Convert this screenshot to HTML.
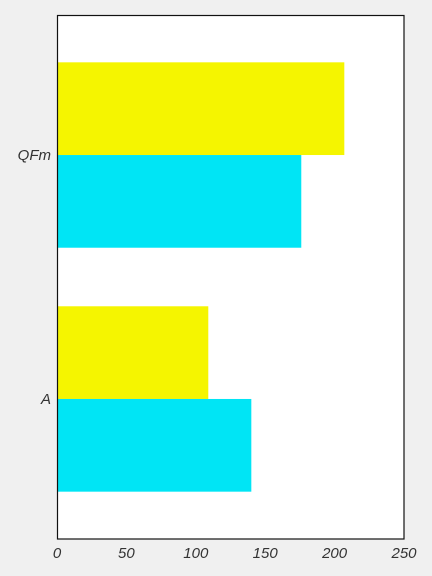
<!DOCTYPE html>
<html><head><meta charset="utf-8"><style>
body{margin:0;background:#f0f0f0;}
svg{display:block;}
text{font-family:"Liberation Sans",sans-serif;font-style:italic;font-size:15px;fill:#333;}
</style></head><body>
<svg id="chart" width="432" height="576" xmlns="http://www.w3.org/2000/svg">
<rect x="0" y="0" width="432" height="576" fill="#f0f0f0"/>
<rect x="57" y="15" width="347" height="524" fill="#fff"/>
<g id="bars"></g>
<g id="ticks"></g>
<rect x="57.5" y="15.5" width="346.5" height="523.5" fill="none" stroke="#111" stroke-width="1.2"/>
</svg>
<script>
const categories = ["A", "QFm"];
const seriesCyan = [140, 176];
const seriesYellow = [109, 207];
const xTicks = [0, 50, 100, 150, 200, 250];

const X0 = 57, X1 = 404, Y0 = 15, Y1 = 539;
const xMin = 0, xMax = 250, yMin = -0.574, yMax = 1.574;
const xs = v => X0 + (v - xMin) / (xMax - xMin) * (X1 - X0);
const ys = v => Y1 - (v - yMin) / (yMax - yMin) * (Y1 - Y0);
const NS = "http://www.w3.org/2000/svg";
const barsG = document.getElementById("bars");
const ticksG = document.getElementById("ticks");
const barH = 0.38;

categories.forEach((c, i) => {
  const yc = ys(i);
  const h = ys(i - barH) - yc;
  const ry = document.createElementNS(NS, "rect");
  ry.setAttribute("x", xs(0)); ry.setAttribute("y", yc - h);
  ry.setAttribute("width", xs(seriesYellow[i]) - xs(0)); ry.setAttribute("height", h);
  ry.setAttribute("fill", "#f5f500");
  
  
  barsG.appendChild(ry);
  const rc = document.createElementNS(NS, "rect");
  rc.setAttribute("x", xs(0)); rc.setAttribute("y", yc);
  rc.setAttribute("width", xs(seriesCyan[i]) - xs(0)); rc.setAttribute("height", h);
  rc.setAttribute("fill", "#00e5f5");
  
  
  barsG.appendChild(rc);
  const t = document.createElementNS(NS, "text");
  t.setAttribute("x", 51); t.setAttribute("y", yc + 5);
  t.setAttribute("text-anchor", "end");
  t.textContent = c;
  
  
  ticksG.appendChild(t);
});

xTicks.forEach(v => {
  const t = document.createElementNS(NS, "text");
  t.setAttribute("x", xs(v)); t.setAttribute("y", 558);
  t.setAttribute("text-anchor", "middle");
  t.textContent = v;
  
  
  ticksG.appendChild(t);
});
</script>
</body></html>
